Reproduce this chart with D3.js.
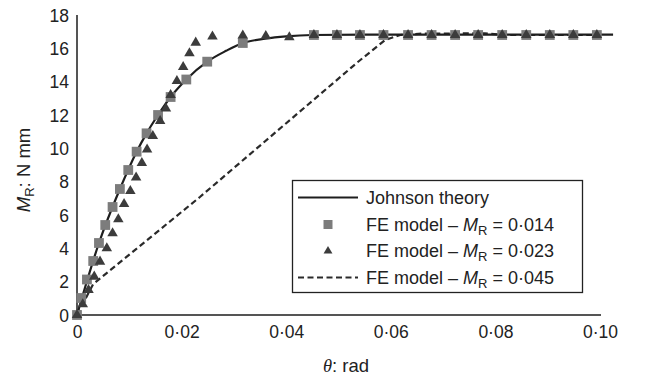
<!DOCTYPE html>
<html>
<head>
<meta charset="utf-8">
<script src="https://cdn.jsdelivr.net/npm/d3@7"></script>
<style>
  html, body { margin: 0; padding: 0; background: #fff; }
  svg { display: block; }
  text { font-family: "Liberation Sans", Arial, Helvetica, sans-serif; fill: #222; }
</style>
</head>
<body>
<svg id="chart" width="646" height="379"></svg>
<script>
// ---- Data ----
const xTicks = [0, 0.02, 0.04, 0.06, 0.08, 0.10];
const xTickLabels = ["0", "0\u00b702", "0\u00b704", "0\u00b706", "0\u00b708", "0\u00b710"];
const yTicks = [0, 2, 4, 6, 8, 10, 12, 14, 16, 18];

// Johnson theory (solid line)
const johnsonTheta = [0, 0.0042, 0.0082, 0.0114, 0.0133, 0.0155, 0.0179, 0.0209, 0.0249, 0.0285, 0.0317, 0.036, 0.040, 0.045, 0.055, 0.1025];
const johnsonM     = [0, 4.32, 7.56, 9.80, 10.90, 12.0, 13.08, 14.13, 15.20, 15.85, 16.32, 16.58, 16.72, 16.8, 16.82, 16.82];

// FE model – M_R = 0·014 (squares)
const fe014Theta = [0, 0.0008, 0.0019, 0.0031, 0.0042, 0.0054, 0.0068, 0.0082, 0.0098, 0.0114, 0.0133, 0.0155, 0.0179, 0.0209, 0.0249, 0.0317,
                    0.0453, 0.0497, 0.0541, 0.0586, 0.0633, 0.0678, 0.0723, 0.0767, 0.0813, 0.0859, 0.0904, 0.0949, 0.0994];
const fe014M     = [0, 1.02, 2.13, 3.24, 4.32, 5.40, 6.48, 7.56, 8.70, 9.80, 10.90, 12.0, 13.08, 14.13, 15.20, 16.32,
                    16.8, 16.8, 16.8, 16.8, 16.8, 16.8, 16.8, 16.8, 16.8, 16.8, 16.8, 16.8, 16.8];

// FE model – M_R = 0·023 (triangles)
const fe023Theta = [0, 0.0011, 0.0022, 0.0033, 0.0044, 0.0057, 0.0068, 0.0079, 0.0090, 0.0102, 0.0113, 0.0124, 0.0134, 0.0145, 0.0159, 0.0170, 0.0179,
                    0.0191, 0.0203, 0.0215, 0.0227, 0.0259, 0.0317, 0.0361, 0.0406,
                    0.0453, 0.0497, 0.0541, 0.0586, 0.0633, 0.0678, 0.0723, 0.0767, 0.0813, 0.0859, 0.0904, 0.0949, 0.0994];
const fe023M     = [0, 0.64, 1.5, 2.3, 3.2, 4.0, 4.9, 5.74, 6.66, 7.44, 8.25, 9.12, 9.93, 10.74, 11.64, 12.39, 13.2,
                    14.04, 14.88, 15.7, 16.34, 16.71, 16.77, 16.74, 16.66,
                    16.8, 16.8, 16.8, 16.8, 16.8, 16.8, 16.8, 16.8, 16.8, 16.8, 16.8, 16.8, 16.8];

// FE model – M_R = 0·045 (dashed line)
const fe045Theta = [0, 0.0031, 0.0235, 0.0537, 0.0589, 0.0618, 0.066, 0.078, 0.082, 0.0994];
const fe045M     = [0, 1.86, 7.08, 15.18, 16.5, 16.8, 16.88, 16.9, 16.8, 16.8];

// ---- Layout ----
const svg = d3.select("#chart");
const x = d3.scaleLinear().domain([0, 0.10]).range([77, 600]);
const y = d3.scaleLinear().domain([0, 18]).range([315, 15]);

const zip = (a, b) => a.map((v, i) => [v, b[i]]);

// Axes (lines only, no tick marks)
const axisColor = "#555";
const xAxis = d3.axisBottom(x).tickValues(xTicks).tickSize(0).tickPadding(0).tickFormat((d, i) => xTickLabels[i]);
const gx = svg.append("g").attr("transform", `translate(0,${y(0)})`).call(xAxis);
gx.select(".domain").attr("stroke", axisColor).attr("stroke-width", 2).attr("d", `M${x(0)},0H${x(0.10) + 1}`);
gx.selectAll(".tick text").attr("dy", null).attr("y", 23).attr("font-size", 17.5).attr("fill", "#222")
  .attr("font-family", "Liberation Sans, Arial, sans-serif");

const yAxis = d3.axisLeft(y).tickValues(yTicks).tickSize(0).tickPadding(0).tickFormat(d3.format("d"));
const gy = svg.append("g").attr("transform", `translate(${x(0)},0)`).call(yAxis);
gy.select(".domain").attr("stroke", axisColor).attr("stroke-width", 2).attr("d", `M0,${y(18)}V${y(0) + 1}`);
gy.selectAll(".tick text").attr("x", -8).attr("dy", "0.36em").attr("font-size", 17.5).attr("fill", "#222")
  .attr("font-family", "Liberation Sans, Arial, sans-serif");

// Lines
const line = d3.line().x(d => x(d[0])).y(d => y(d[1]));
svg.append("path").datum(zip(fe045Theta, fe045M))
  .attr("d", line.curve(d3.curveLinear))
  .attr("fill", "none").attr("stroke", "#2a2a2a").attr("stroke-width", 2.2).attr("stroke-dasharray", "6,3.5");
svg.append("path").datum(zip(johnsonTheta, johnsonM))
  .attr("d", d3.line().x(d => x(d[0])).y(d => y(d[1])).curve(d3.curveMonotoneX))
  .attr("fill", "none").attr("stroke", "#1e1e1e").attr("stroke-width", 2.2);

// Markers
const sq = d3.symbol().type(d3.symbolSquare).size(96);
const tri = d3.symbol().type(d3.symbolTriangle).size(48);
svg.append("g").selectAll("path").data(zip(fe014Theta, fe014M)).join("path")
  .attr("d", sq).attr("transform", d => `translate(${x(d[0])},${y(d[1])})`).attr("fill", "#7c7c7c");
svg.append("g").selectAll("path").data(zip(fe023Theta, fe023M)).join("path")
  .attr("d", tri).attr("transform", d => `translate(${x(d[0])},${y(d[1])})`).attr("fill", "#3c3c3c");

// Axis titles
const xt = svg.append("text").attr("x", 346).attr("y", 372).attr("text-anchor", "middle").attr("font-size", 18.5);
xt.append("tspan").attr("font-style", "italic").attr("font-family", "Liberation Serif, Times New Roman, serif").text("\u03b8");
xt.append("tspan").text(": rad");

const yt = svg.append("text").attr("transform", "translate(30,170) rotate(-90)").attr("text-anchor", "middle").attr("font-size", 18.5);
yt.append("tspan").attr("font-style", "italic").text("M");
yt.append("tspan").attr("font-size", 13).attr("dy", 4).text("R");
yt.append("tspan").attr("dy", -4).text(": N mm");

// Legend
const lg = svg.append("g");
lg.append("rect").attr("x", 292.5).attr("y", 180.5).attr("width", 290).attr("height", 112)
  .attr("fill", "#fff").attr("stroke", "#222").attr("stroke-width", 1.3);
const rows = [
  { kind: "solid", label: "Johnson theory" },
  { kind: "square", label: "FE model \u2013 ", sub: "0\u00b7014" },
  { kind: "tri", label: "FE model \u2013 ", sub: "0\u00b7023" },
  { kind: "dash", label: "FE model \u2013 ", sub: "0\u00b7045" }
];
const rowY = [197.5, 224.5, 251, 277.5];
rows.forEach((r, i) => {
  const cy = rowY[i];
  if (r.kind === "solid") {
    lg.append("line").attr("x1", 298).attr("x2", 358).attr("y1", cy).attr("y2", cy).attr("stroke", "#1e1e1e").attr("stroke-width", 2.2);
  } else if (r.kind === "dash") {
    lg.append("line").attr("x1", 298).attr("x2", 358).attr("y1", cy).attr("y2", cy).attr("stroke", "#2a2a2a").attr("stroke-width", 2.2).attr("stroke-dasharray", "6,3.5");
  } else if (r.kind === "square") {
    lg.append("path").attr("d", d3.symbol().type(d3.symbolSquare).size(81)).attr("transform", `translate(328,${cy})`).attr("fill", "#7c7c7c");
  } else {
    lg.append("path").attr("d", d3.symbol().type(d3.symbolTriangle).size(34)).attr("transform", `translate(328,${cy})`).attr("fill", "#3c3c3c");
  }
  const t = lg.append("text").attr("x", 366).attr("y", cy + 6).attr("font-size", 18);
  t.append("tspan").text(r.label);
  if (r.sub) {
    t.append("tspan").attr("font-style", "italic").text("M");
    t.append("tspan").attr("font-size", 13).attr("dy", 4).text("R");
    t.append("tspan").attr("dy", -4).text(" = " + r.sub);
  }
});
</script>
</body>
</html>
